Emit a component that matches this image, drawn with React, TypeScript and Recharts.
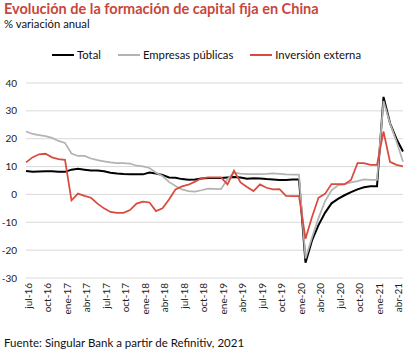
import React from 'react';
import { LineChart, Line, XAxis, YAxis, CartesianGrid } from 'recharts';

const FONT = 'Lato, "Open Sans", sans-serif';

const months = [
  'jul-16', 'ago-16', 'sep-16', 'oct-16', 'nov-16', 'dic-16',
  'ene-17', 'feb-17', 'mar-17', 'abr-17', 'may-17', 'jun-17', 'jul-17', 'ago-17', 'sep-17', 'oct-17', 'nov-17', 'dic-17',
  'ene-18', 'feb-18', 'mar-18', 'abr-18', 'may-18', 'jun-18', 'jul-18', 'ago-18', 'sep-18', 'oct-18', 'nov-18', 'dic-18',
  'ene-19', 'feb-19', 'mar-19', 'abr-19', 'may-19', 'jun-19', 'jul-19', 'ago-19', 'sep-19', 'oct-19', 'nov-19', 'dic-19',
  'ene-20', 'feb-20', 'mar-20', 'abr-20', 'may-20', 'jun-20', 'jul-20', 'ago-20', 'sep-20', 'oct-20', 'nov-20', 'dic-20',
  'ene-21', 'feb-21', 'mar-21', 'abr-21', 'may-21',
];

const total = [
  8.4, 8.1, 8.2, 8.3, 8.3, 8.1,
  8.1, 8.9, 9.2, 8.9, 8.6, 8.6, 8.3, 7.8, 7.5, 7.3, 7.2, 7.2,
  7.2, 7.9, 7.5, 7.0, 6.1, 6.0, 5.5, 5.3, 5.4, 5.7, 5.9, 5.9,
  5.9, 6.1, 6.3, 6.1, 5.6, 5.8, 5.7, 5.5, 5.4, 5.2, 5.2, 5.4,
  5.4, -24.5, -16.5, -11.0, -6.6, -3.2, -1.6, -0.3, 0.8, 1.8, 2.6, 2.9,
  2.9, 35.0, 25.6, 19.9, 15.4,
];

const empresasPublicas = [
  22.6, 21.7, 21.3, 20.9, 20.3, 19.2,
  18.5, 14.7, 13.8, 13.8, 12.9, 12.3, 11.9, 11.5, 11.2, 11.2, 11.1, 10.3,
  10.1, 9.5, 7.8, 6.6, 4.5, 3.0, 1.8, 1.2, 1.0, 1.5, 2.1, 2.0,
  1.9, 5.5, 7.8, 7.5, 7.3, 7.3, 7.3, 7.4, 7.6, 7.4, 7.2, 7.1,
  7.1, -23.0, -15.5, -8.5, -2.5, 1.5, 3.3, 3.6, 4.3, 4.8, 5.4, 5.2,
  5.2, 33.5, 25.5, 19.0, 11.7,
];

const inversionExterna = [
  11.5, 13.3, 14.4, 14.6, 13.3, 12.7,
  12.4, -2.1, 0.3, -0.5, -1.2, -3.3, -5.0, -6.3, -6.6, -6.6, -5.6, -3.3,
  -2.6, -2.9, -6.0, -5.0, -1.8, 1.8, 2.9, 3.5, 4.6, 5.8, 6.1, 6.1,
  6.1, 3.6, 8.5, 4.3, 2.7, 1.2, 3.6, 2.4, 1.8, 1.9, -0.5, -0.6,
  -0.6, -15.9, -8.1, -1.2, 0.2, 3.7, 3.7, 3.7, 5.2, 11.2, 11.2, 10.6,
  10.6, 22.6, 11.7, 10.6, 10.1,
];

const yTicks = [-30, -20, -10, 0, 10, 20, 30, 40];

const series = [
  { key: 'total', name: 'Total', color: '#000000', width: 2 },
  { key: 'empresas', name: 'Empresas públicas', color: '#b3b3b3', width: 1.75 },
  { key: 'inversion', name: 'Inversión externa', color: '#d94b3e', width: 1.75 },
];

const data = months.map((m, i) => ({
  month: m,
  total: total[i],
  empresas: empresasPublicas[i],
  inversion: inversionExterna[i],
}));

const MonthTick = ({ x, y, payload }: any) => (
  <text
    x={0}
    y={0}
    transform={`translate(${x + 2},${y}) rotate(-90)`}
    textAnchor="end"
    dy="0.35em"
    fontSize={10}
    fontFamily={FONT}
    fill="#222"
  >
    {payload.value}
  </text>
);

export default function App() {
  return (
    <div style={{ position: 'absolute', left: 0, top: 0, width: 413, height: 354, background: '#fff', fontFamily: FONT }}>
      <LineChart
        width={413}
        height={354}
        data={data}
        margin={{ top: 83, right: 10, left: 6, bottom: 46 }}
        style={{ position: 'absolute', left: 0, top: 0 }}
      >
        <CartesianGrid vertical={false} stroke="#d9d9d9" strokeWidth={1} />
        <XAxis
          dataKey="month"
          interval={2}
          tick={<MonthTick />}
          height={30}
          tickSize={3}
          tickMargin={2}
          axisLine={false}
          tickLine={false}
        />
        <YAxis
          domain={[-30, 40]}
          ticks={yTicks}
          width={20}
          axisLine={false}
          tickLine={false}
          tickSize={0}
          tickMargin={9}
          tick={{ fontSize: 10, fill: '#222', fontFamily: FONT }}
        />
        {series.map(s => (
          <Line
            key={s.key}
            type="linear"
            dataKey={s.key}
            name={s.name}
            stroke={s.color}
            strokeWidth={s.width}
            dot={false}
            isAnimationActive={false}
          />
        ))}
      </LineChart>

      <div style={{ position: 'absolute', left: 4, top: 2.2, fontSize: 14.5, lineHeight: '14.5px', fontWeight: 700, color: '#c8473c', whiteSpace: 'nowrap' }}>
        Evolución de la formación de capital fija en China
      </div>
      <div style={{ position: 'absolute', left: 4, top: 18, fontSize: 11.3, lineHeight: '11.3px', color: '#111', whiteSpace: 'nowrap' }}>
        % variación anual
      </div>

      <div style={{ position: 'absolute', left: 0, top: 49, width: 413, display: 'flex', justifyContent: 'center', gap: 17, fontSize: 11.3, lineHeight: '11.3px', color: '#111' }}>
        {series.map(s => (
          <div key={s.key} style={{ display: 'flex', alignItems: 'center', gap: 3, whiteSpace: 'nowrap' }}>
            <span style={{ display: 'inline-block', width: 22, height: 2, background: s.color }} />
            <span>{s.name}</span>
          </div>
        ))}
      </div>

      <div style={{ position: 'absolute', left: 4, top: 336.5, fontSize: 11.5, lineHeight: '11.5px', color: '#111', whiteSpace: 'nowrap' }}>
        Fuente: Singular Bank a partir de Refinitiv, 2021
      </div>
    </div>
  );
}
